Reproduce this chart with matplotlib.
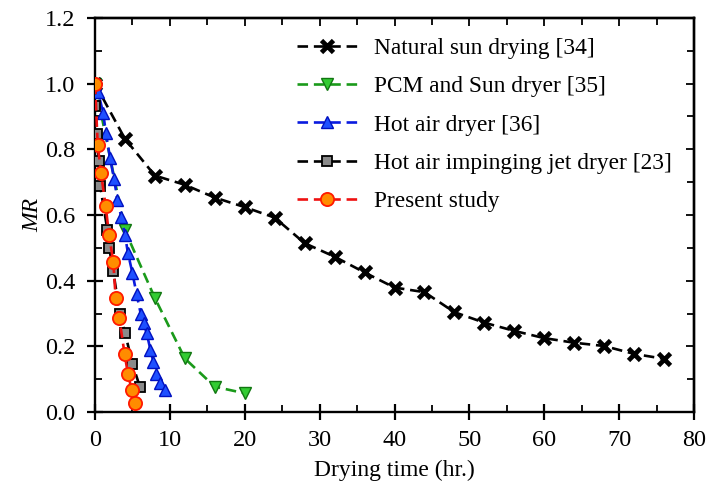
import matplotlib
matplotlib.use("Agg")
import matplotlib.pyplot as plt
from matplotlib.ticker import MultipleLocator

plt.rcParams['font.family'] = ['Liberation Serif', 'DejaVu Serif']

# ---- data ----
sun_x = [0, 4, 8, 12, 16, 20, 24, 28, 32, 36, 40, 44, 48, 52, 56, 60, 64, 68, 72, 76]
sun_y = [1.0, 0.832, 0.72, 0.692, 0.653, 0.624, 0.592, 0.514, 0.473, 0.425, 0.379,
         0.365, 0.304, 0.272, 0.247, 0.225, 0.211, 0.201, 0.177, 0.162]

pcm_x = [0, 4, 8, 12, 16, 20]
pcm_y = [1.0, 0.553, 0.347, 0.163, 0.077, 0.057]

hot_x = [0, 0.4, 1.1, 1.45, 2.0, 2.55, 3.0, 3.5, 4.0, 4.4, 5.0, 5.55, 6.1, 6.5, 6.9,
         7.4, 7.8, 8.2, 8.7, 9.3]
hot_y = [1.0, 0.975, 0.91, 0.85, 0.775, 0.71, 0.645, 0.595, 0.54, 0.484, 0.423, 0.36,
         0.30, 0.27, 0.24, 0.19, 0.152, 0.117, 0.088, 0.066]

jet_x = [0, 0.05, 0.22, 0.5, 0.7, 1.65, 1.9, 2.44, 3.33, 4.0, 5.0, 6.0]
jet_y = [1.0, 0.932, 0.847, 0.765, 0.687, 0.555, 0.50, 0.428, 0.297, 0.242, 0.147, 0.076]

pre_x = [0, 0.36, 0.8, 1.42, 1.87, 2.44, 2.76, 3.25, 3.95, 4.4, 4.9, 5.4]
pre_y = [1.0, 0.814, 0.728, 0.628, 0.54, 0.458, 0.347, 0.285, 0.177, 0.116, 0.067, 0.027]

labels = ["Natural sun drying [34]", "PCM and Sun dryer [35]", "Hot air dryer [36]",
          "Hot air impinging jet dryer [23]", "Present study"]

fig = plt.figure(figsize=(7.08, 4.86), dpi=100)
ax = fig.add_axes([95/708, 1-412/486, (694-95)/708, (412-18)/486])

dash = (4, 2.2)
lw = 1.9
ax.plot(sun_x, sun_y, color='black', lw=lw, dashes=dash, marker='x', ms=8.5, mew=3.4,
        mec='black', label=labels[0], zorder=3)
ax.plot(pcm_x, pcm_y, color='#1a9a1a', lw=lw, dashes=dash, marker='v', ms=9, mew=1.0,
        mfc='#33cc33', mec='#117711', label=labels[1], zorder=3)
ax.plot(hot_x, hot_y, color='#0a1adf', lw=lw, dashes=dash, marker='^', ms=9, mew=1.0,
        mfc='#1f50ff', mec='#0010c0', label=labels[2], zorder=4)
ax.plot(jet_x, jet_y, color='black', lw=lw, dashes=dash, marker='s', ms=7.5, mew=1.3,
        mfc='#8a8a8a', mec='black', label=labels[3], zorder=5)
ax.plot(pre_x, pre_y, color='#ee1111', lw=lw, dashes=dash, marker='o', ms=9.5, mew=1.3,
        mfc='#ff8c00', mec='#ff1a00', label=labels[4], zorder=6)

ax.set_xlim(0, 80)
ax.set_ylim(0, 1.2)
ax.xaxis.set_major_locator(MultipleLocator(10))
ax.xaxis.set_minor_locator(MultipleLocator(5))
ax.yaxis.set_major_locator(MultipleLocator(0.2))
ax.yaxis.set_minor_locator(MultipleLocator(0.1))
ax.yaxis.set_major_formatter(matplotlib.ticker.FormatStrFormatter('%.1f'))

ax.tick_params(which='major', direction='inout', length=12, width=1.6, labelsize=17.5, pad=7)
ax.tick_params(axis='y', which='major', pad=8)
ax.tick_params(which='minor', direction='in', length=5, width=1.3)
for s in ax.spines.values():
    s.set_linewidth(1.7)

secx = ax.secondary_xaxis('top')
secx.xaxis.set_major_locator(MultipleLocator(10))
secx.xaxis.set_minor_locator(MultipleLocator(5))
secx.tick_params(which='major', direction='in', length=6, width=1.3, labeltop=False)
secx.tick_params(which='minor', direction='in', length=5, width=1.3)
secy = ax.secondary_yaxis('right')
secy.yaxis.set_major_locator(MultipleLocator(0.2))
secy.yaxis.set_minor_locator(MultipleLocator(0.1))
secy.tick_params(which='major', direction='in', length=6, width=1.3, labelright=False)
secy.tick_params(which='minor', direction='in', length=5, width=1.3)
secx.spines['top'].set_linewidth(1.7)
secy.spines['right'].set_linewidth(1.7)

ax.set_xlabel("Drying time (hr.)", fontsize=17, labelpad=6)
ax.set_ylabel("MR", fontsize=17, style='italic', labelpad=1)

leg = ax.legend(loc='upper left', bbox_to_anchor=(297/708, 1-38/486),
                bbox_transform=fig.transFigure, frameon=False, fontsize=16.8,
                handlelength=2.6, handletextpad=0.72, labelspacing=0.72,
                borderpad=0, borderaxespad=0)

fig.savefig("out.png", dpi=100)
